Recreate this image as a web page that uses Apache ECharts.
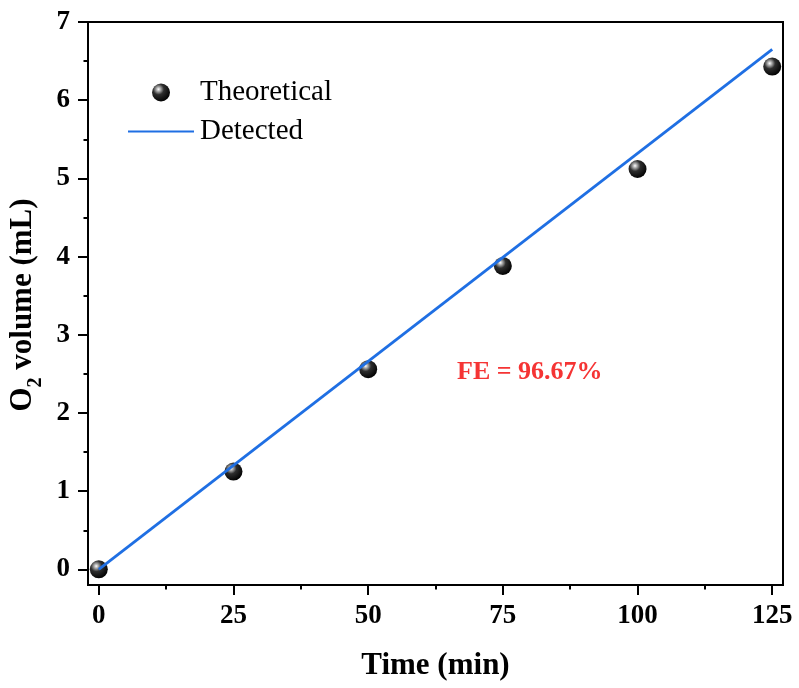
<!DOCTYPE html>
<html>
<head>
<meta charset="utf-8">
<script src="https://cdn.jsdelivr.net/npm/echarts@6/dist/echarts.min.js"></script>
<style>
html,body{margin:0;padding:0;background:#fff;}
#chart{width:799px;height:688px;}
</style>
</head>
<body>
<div id="chart"></div>
<script>
// ---- data ----
var timeMin = [0, 25, 50, 75, 100, 125];
var theoreticalVol = [0, 1.25, 2.56, 3.88, 5.12, 6.43];
var detectedTime = [0, 125];
var detectedVol = [0, 6.65];
var xMajorTicks = [0, 25, 50, 75, 100, 125];
var xMinorTicks = [12.5, 37.5, 62.5, 87.5, 112.5];
var yMajorTicks = [0, 1, 2, 3, 4, 5, 6, 7];
var yMinorTicks = [0.5, 1.5, 2.5, 3.5, 4.5, 5.5, 6.5];
var feLabel = 'FE = 96.67%';
var fePos = [80, 2.52];

var FONT = 'Liberation Serif';
var chart = echarts.init(document.getElementById('chart'), null, {renderer: 'canvas'});

var sphere = new echarts.graphic.RadialGradient(0.36, 0.32, 0.72, [
  {offset: 0, color: '#ffffff'},
  {offset: 0.14, color: '#b8b8b8'},
  {offset: 0.42, color: '#2e2e2e'},
  {offset: 1, color: '#000000'}
]);

var axisX = {
  type: 'value', min: -2, max: 127, position: 'bottom',
  splitLine: {show: false}
};
var axisY = {
  type: 'value', min: -0.2, max: 7, position: 'left',
  splitLine: {show: false}
};

var option = {
  backgroundColor: '#ffffff',
  animation: false,
  grid: {left: 88, right: 16, top: 22, bottom: 103, containLabel: false, outerBoundsMode: 'none',
         show: true, borderColor: '#000', borderWidth: 2, backgroundColor: 'transparent'},
  legend: {
    orient: 'vertical', left: 127, top: 78, padding: 0,
    itemWidth: 66, itemHeight: 18, itemGap: 10,
    textStyle: {fontFamily: FONT, fontSize: 29, color: '#000', padding: [0, 0, 0, 1]},
    data: [
      {name: 'Theoretical'},
      {name: 'Detected', itemStyle: {opacity: 0}}
    ]
  },
  xAxis: [
    Object.assign({}, axisX, {
      name: 'Time (min)', nameLocation: 'middle', nameGap: 65,
      nameTextStyle: {fontFamily: FONT, fontSize: 31, fontWeight: 'bold', color: '#000'},
      axisLine: {show: true, onZero: false, lineStyle: {color: '#000', width: 2}},
      axisTick: {show: true, inside: false, length: 10, lineStyle: {color: '#000', width: 2}, customValues: xMajorTicks},
      axisLabel: {show: true, margin: 18, fontFamily: FONT, fontSize: 27, fontWeight: 'bold', color: '#000', customValues: xMajorTicks}
    }),
    Object.assign({}, axisX, {
      axisLine: {show: false, onZero: false},
      axisTick: {show: true, inside: false, length: 4.5, lineStyle: {color: '#000', width: 2}, customValues: xMinorTicks},
      axisLabel: {show: false}
    })
  ],
  yAxis: [
    Object.assign({}, axisY, {
      name: '{a|O}{s|2}{a| volume (mL)}', nameLocation: 'middle', nameGap: 37, nameRotate: 90,
      nameTextStyle: {
        color: '#000', padding: [0, 3, 0, 0], verticalAlign: 'bottom',
        rich: {
          a: {fontFamily: FONT, fontSize: 31, fontWeight: 'bold', color: '#000', lineHeight: 31, verticalAlign: 'top'},
          s: {fontFamily: FONT, fontSize: 20, fontWeight: 'bold', color: '#000', lineHeight: 20, verticalAlign: 'top', padding: [18, 0, 0, 0]}
        }
      },
      axisLine: {show: true, onZero: false, lineStyle: {color: '#000', width: 2}},
      axisTick: {show: true, inside: false, length: 10, lineStyle: {color: '#000', width: 2}, customValues: yMajorTicks},
      axisLabel: {show: true, margin: 18, fontFamily: FONT, fontSize: 27, fontWeight: 'bold', color: '#000', customValues: yMajorTicks}
    }),
    Object.assign({}, axisY, {
      axisLine: {show: false, onZero: false},
      axisTick: {show: true, inside: false, length: 4.5, lineStyle: {color: '#000', width: 2}, customValues: yMinorTicks},
      axisLabel: {show: false}
    })
  ],
  series: [
    {
      name: 'Theoretical', type: 'scatter', xAxisIndex: 0, yAxisIndex: 0,
      symbol: 'circle', symbolSize: 18,
      itemStyle: {color: sphere, opacity: 1},
      data: timeMin.map(function (t, i) { return [t, theoreticalVol[i]]; }),
      markPoint: {
        symbol: 'circle', symbolSize: 0,
        label: {show: true, position: 'inside', formatter: feLabel, fontFamily: FONT, fontSize: 26, fontWeight: 'bold', color: '#f53434'},
        data: [{coord: fePos, value: feLabel}]
      }
    },
    {
      name: 'Detected', type: 'line', xAxisIndex: 0, yAxisIndex: 0,
      symbol: 'none', showSymbol: false,
      lineStyle: {color: '#1f6fe3', width: 2.8},
      itemStyle: {color: '#1f6fe3'},
      data: detectedTime.map(function (t, i) { return [t, detectedVol[i]]; })
    }
  ]
};
chart.setOption(option);
</script>
</body>
</html>
